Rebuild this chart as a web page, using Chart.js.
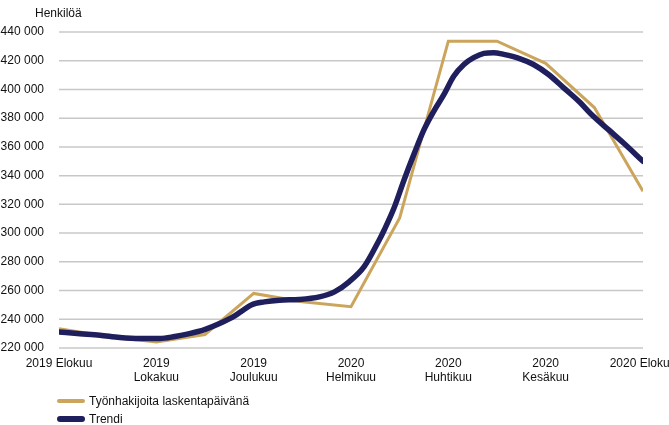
<!DOCTYPE html>
<html>
<head>
<meta charset="utf-8">
<script src="https://cdn.jsdelivr.net/npm/chart.js@4"></script>
<style>
  html, body { margin: 0; padding: 0; background: #fff; overflow: hidden; }
  #wrap { position: relative; width: 669px; height: 425px; overflow: hidden; }
  canvas { position: absolute; left: 0; top: 0; }
  .unit { position: absolute; left: 35px; top: 6px; font: 12px "Liberation Sans", Arial, sans-serif; color: #111; }
  #legend { position: absolute; left: 57px; top: 392px; font: 12px "Liberation Sans", Arial, sans-serif; color: #111; }
  #legend div { height: 18px; line-height: 18px; white-space: nowrap; }
  #legend span.sw { display: inline-block; width: 28px; border-radius: 3px; vertical-align: middle; margin-right: 4px; position: relative; top: -1px; }
</style>
</head>
<body>
<div id="wrap">
  <canvas id="c" width="669" height="425"></canvas>
  <div class="unit">Henkilöä</div>
  <div id="legend"></div>
</div>
<script>
// x in months from 2019 Elokuu (0) to 2020 Elokuu (12)
var tickLabels = [['2019 Elokuu'], ['2019', 'Lokakuu'], ['2019', 'Joulukuu'], ['2020', 'Helmikuu'],
                  ['2020', 'Huhtikuu'], ['2020', 'Kesäkuu'], ['2020 Elokuu']];
var monthly = [0, 1, 2, 3, 4, 5, 6, 7, 8, 9, 10, 11, 12];
var countValues = [233500, 228000, 224200, 229400, 258000, 252200, 248700, 310500, 433600, 433600, 418200, 387400, 329100];
var trendMonths = [0, 0.43, 0.84, 1.25, 1.66, 2.07, 2.38, 2.68, 2.99, 3.30, 3.61, 3.81, 3.95, 4.22, 4.53, 4.94,
                   5.35, 5.66, 5.96, 6.27, 6.58, 6.68, 6.89, 7.09, 7.30, 7.50, 7.70, 7.91, 8.11, 8.32, 8.52, 8.73,
                   8.93, 9.14, 9.45, 9.75, 10.06, 10.37, 10.68, 10.98, 11.29, 11.60, 12];
var trendValues = [231200, 230000, 228900, 227300, 226600, 226600, 228000, 230000, 232800, 237000, 242300, 247000, 250000,
                   252100, 253300, 253800, 255600, 259100, 266100, 276600, 295200, 302000, 318000, 337000, 355500, 372000,
                   384800, 396500, 409200, 417400, 422100, 425100, 425600, 424400, 421700, 417400, 410400, 401100,
                   391800, 381300, 372000, 362700, 350000];

var gold = '#CCA55C', navy = '#1F1F5E', gridColor = '#C8C8C8';
var font = { family: '"Liberation Sans", Arial, sans-serif', size: 12 };

function pairs(xs, ys) { return xs.map(function (x, i) { return { x: x, y: ys[i] }; }); }

// horizontal grid, only as wide as the plotted data
var hgrid = {
  id: 'hgrid',
  beforeDatasetsDraw: function (c) {
    var x = c.scales.x, y = c.scales.y, ctx = c.ctx;
    var x0 = x.getPixelForValue(x.min), x1 = x.getPixelForValue(x.max);
    ctx.save();
    ctx.strokeStyle = gridColor; ctx.lineWidth = 1.5;
    y.ticks.forEach(function (t) {
      var py = y.getPixelForValue(t.value);
      ctx.beginPath(); ctx.moveTo(x0, py); ctx.lineTo(x1, py); ctx.stroke();
    });
    ctx.restore();
  }
};

var chart = new Chart(document.getElementById('c'), {
  type: 'line',
  data: {
    datasets: [
      { label: 'Työnhakijoita laskentapäivänä', data: pairs(monthly, countValues), borderColor: gold, backgroundColor: gold,
        borderWidth: 3, pointRadius: 0, tension: 0, order: 2 },
      { label: 'Trendi', data: pairs(trendMonths, trendValues), borderColor: navy, backgroundColor: navy,
        borderWidth: 5.5, pointRadius: 0, cubicInterpolationMode: 'monotone', order: 1, borderCapStyle: 'round' }
    ]
  },
  options: {
    responsive: false, animation: false,
    layout: { padding: { left: 0, right: 26, top: 32, bottom: 0 } },
    plugins: { legend: { display: false }, tooltip: { enabled: false } },
    scales: {
      x: {
        type: 'linear', min: 0, max: 12,
        // let the last label run off the edge, as in the original
        afterFit: function (s) { s.height = 77; s.paddingLeft = 0; s.paddingRight = 0; },
        afterBuildTicks: function (s) { s.ticks = [0, 2, 4, 6, 8, 10, 12].map(function (v) { return { value: v }; }); },
        ticks: { color: '#111', font: font, padding: 0, maxRotation: 0, autoSkip: false,
                 callback: function (v) { return tickLabels[v / 2]; } },
        grid: { display: false }, border: { display: false }
      },
      y: {
        min: 220000, max: 440000,
        afterFit: function (s) { s.width = 59; },
        ticks: { stepSize: 20000, color: '#111', font: font, padding: 7,
                 callback: function (v) { return String(v).replace(/\B(?=(\d{3})+(?!\d))/g, ' '); } },
        grid: { display: false }, border: { display: false }
      }
    }
  },
  plugins: [hgrid]
});

var lg = document.getElementById('legend');
chart.data.datasets.forEach(function (d) {
  var row = document.createElement('div');
  var sw = document.createElement('span');
  sw.className = 'sw';
  sw.style.height = (d.borderWidth + 0.5) + 'px';
  sw.style.background = d.borderColor;
  row.appendChild(sw);
  row.appendChild(document.createTextNode(d.label));
  lg.appendChild(row);
});
</script>
</body>
</html>
